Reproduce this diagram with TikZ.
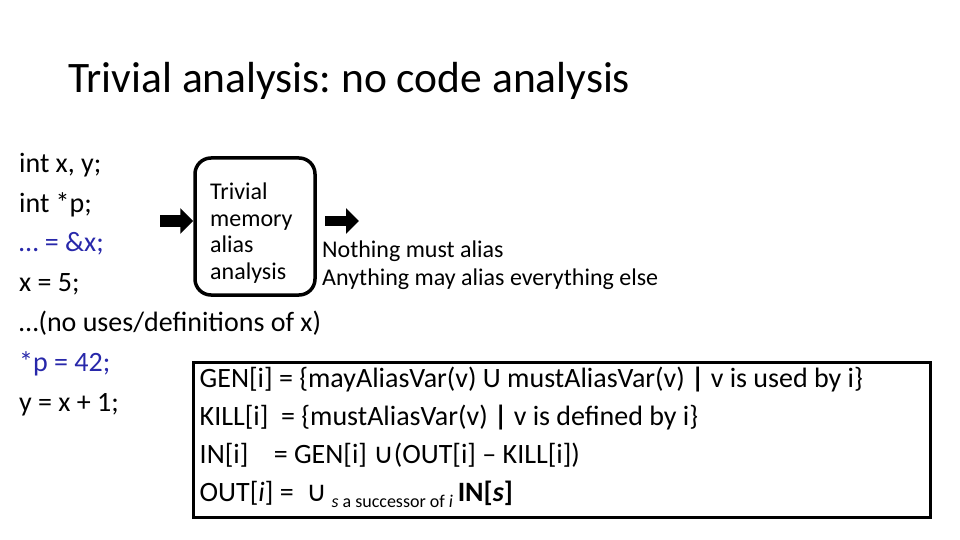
\documentclass[tikz,border=0pt]{standalone}
\usepackage{fontspec}
\setmainfont{Carlito}
\newfontfamily\symfont{DejaVu Sans}
\usepackage{tikz}
\usetikzlibrary{arrows.meta,positioning,calc}
\definecolor{codeBlue}{RGB}{40,40,170}
\frenchspacing
\tikzset{
  title/.style={anchor=base west,inner sep=0pt,font=\fontsize{43.5}{48}\selectfont},
  codeline/.style={anchor=base west,inner sep=0pt,font=\fontsize{28}{32}\selectfont},
  aliasbox/.style={draw,line width=3.5pt,rounded corners=16pt,minimum width=120pt,
                   minimum height=137pt},
  boxtext/.style={anchor=north west,inner sep=0pt,align=left,
                  font=\fontsize{24}{26.5}\selectfont},
  outtext/.style={anchor=base west,inner sep=0pt,font=\fontsize{24}{28}\selectfont},
  rulebox/.style={draw,line width=3pt,minimum width=737pt,minimum height=155pt},
  ruletext/.style={anchor=west,inner sep=0pt,align=left,font=\fontsize{28}{38}\selectfont},
  blockarr/.style={-{Triangle[length=13pt,width=25pt]},line width=12pt},
}
\begin{document}
\begin{tikzpicture}[x=1pt,y=-1pt]
  \useasboundingbox (0,0) rectangle (960,540);

  \node[title] (head) at (68,93) {Trivial analysis: no code analysis};

  % program text
  \node[codeline] (c1) at (19,172) {int x, y;};
  \node[codeline] (c2) at (19,212) {int *p;};
  \node[codeline,text=codeBlue] (c3) at (19,251) {\ldots\ = \&x;};
  \node[codeline] (c4) at (19,291) {x = 5;};
  \node[codeline] (c5) at (19,331) {\ldots(no uses/definitions of x)};
  \node[codeline,text=codeBlue] (c6) at (19,371) {*p = 42;};
  \node[codeline] (c7) at (19,411) {y = x + 1;};

  % the analysis
  \node[aliasbox] (alias) at (255,226.5) {};
  \node[boxtext] (aliastext) at (210,183) {Trivial\\memory\\alias\\analysis};
  \coordinate (inL) at (160,221);
  \coordinate (outL) at (325,221);
  \coordinate (outR) at (359,221);
  \draw[blockarr] (inL) -- (inL -| alias.west);
  \draw[blockarr,line width=10pt] (outL) -- (outR);

  \node[outtext] (o1) at (322,257) {Nothing must alias};
  \node[outtext] (o2) at (322,285) {Anything may alias everything else};

  % dataflow equations
  \node[rulebox] (rules) at (561.5,439.5) {};
  \node[ruletext] (ruletext) at ($(rules.west)+(8,-2)$)
    {GEN[i] = \{mayAliasVar(v) U mustAliasVar(v) \textbf{|} v is used by i\}\\
     KILL[i]\ \ = \{mustAliasVar(v) \textbf{|} v is defined by i\}\\
     IN[i]\ \ \ \ = GEN[i]\ {\symfont ∪}(OUT[i] -- KILL[i])\\
     OUT[\textit{i}] = \ {\symfont ∪}\,\raisebox{-6pt}{\fontsize{18}{19}\selectfont\textit{s} a successor of \textit{i}}\,\textbf{IN[\textit{s}]}};
\end{tikzpicture}
\end{document}
